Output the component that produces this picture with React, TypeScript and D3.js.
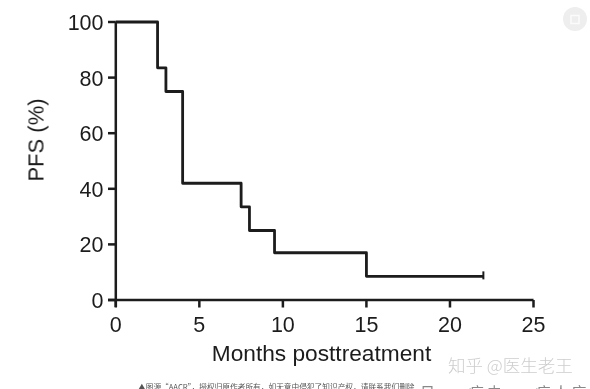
import React from "react";
import * as d3 from "d3";

const times = [0, 2.5, 3, 4, 7.5, 8, 9.5, 15, 22];
const pfs = [100, 83.5, 75, 42, 33.5, 25, 17, 8.5, 8.5];
const xTicks = [0, 5, 10, 15, 20, 25];
const yTicks = [0, 20, 40, 60, 80, 100];
const xLabel = "Months posttreatment";
const yLabel = "PFS (%)";
const caption = "▲图源“AACR”，授权归原作者所有，如无意中侵犯了知识产权，请联系我们删除";
const caption2 = "日 · 病史 · 病人应该注";
const watermark = "知乎 @医生老王";

const font = "'Liberation Sans', Arial, sans-serif";
const cjk = "'Noto Sans CJK SC'";
const ink = "#1c1c1c";

export default function App() {
  const x = d3.scaleLinear().domain([0, 25]).range([115.8, 533.5]);
  const y = d3.scaleLinear().domain([0, 100]).range([300, 22]);
  const points = times.map((t, i) => [t, pfs[i]] as [number, number]);
  const km = d3
    .line<[number, number]>()
    .x((d) => x(d[0]))
    .y((d) => y(d[1]))
    .curve(d3.curveStepAfter);
  const last = times[times.length - 1];
  const lastV = pfs[pfs.length - 1];

  return (
    <svg
      width={590}
      height={389}
      style={{ position: "absolute", left: 0, top: 0, background: "#fff" }}
    >
      <defs>
        <filter id="soft" x="-5%" y="-5%" width="110%" height="110%">
          <feGaussianBlur stdDeviation="0.45" />
        </filter>
        <filter id="soft2" x="-5%" y="-20%" width="110%" height="140%">
          <feGaussianBlur stdDeviation="0.6" />
        </filter>
      </defs>
      <g filter="url(#soft)">
        <path d={`M${x(0)},${y(0) + 7}V${y(100)}M108,${y(0)}H${x(25)}`} fill="none" stroke={ink} strokeWidth={2.5} />
        {yTicks.map((t) => (
          <g key={t}>
            <line x1={108} x2={x(0)} y1={y(t)} y2={y(t)} stroke={ink} strokeWidth={2.5} />
            <text x={103.5} y={y(t) + 8} textAnchor="end" fontFamily={font} fontSize={21.5} fill={ink}>
              {t}
            </text>
          </g>
        ))}
        {xTicks.map((t) => (
          <g key={t}>
            <line x1={x(t)} x2={x(t)} y1={y(0)} y2={307.5} stroke={ink} strokeWidth={2.5} />
            <text x={x(t)} y={332} textAnchor="middle" fontFamily={font} fontSize={21.5} fill={ink}>
              {t}
            </text>
          </g>
        ))}
        <path d={km(points) ?? ""} fill="none" stroke={ink} strokeWidth={2.8} strokeLinejoin="round" />
        <line x1={x(last)} x2={x(last)} y1={y(lastV) - 5} y2={y(lastV) + 3} stroke={ink} strokeWidth={2} />
        <text x={321.5} y={360.5} textAnchor="middle" fontFamily={font} fontSize={22.7} fill={ink}>
          {xLabel}
        </text>
        <text
          transform="translate(43.5,140) rotate(-90)"
          textAnchor="middle"
          fontFamily={font}
          fontSize={22}
          fill={ink}
        >
          {yLabel}
        </text>
      </g>
      <g filter="url(#soft2)">
        <text x={138} y={390} fontFamily={cjk} fontSize={7.7} fill="#555">
          {caption}
        </text>
        <text x={420} y={398} fontFamily={cjk} fontSize={15} letterSpacing={3} fill="#888">
          {caption2}
        </text>
        <text x={448} y={372} fontFamily={cjk} fontSize={17.5} fontWeight={300} fill="#cdcdcd">
          {watermark}
        </text>
        <circle cx={575} cy={19} r={12} fill="#eeeeee" />
        <rect x={571} y={15.5} width={8} height={8} fill="none" stroke="#fbfbfb" strokeWidth={1.5} />
      </g>
    </svg>
  );
}
